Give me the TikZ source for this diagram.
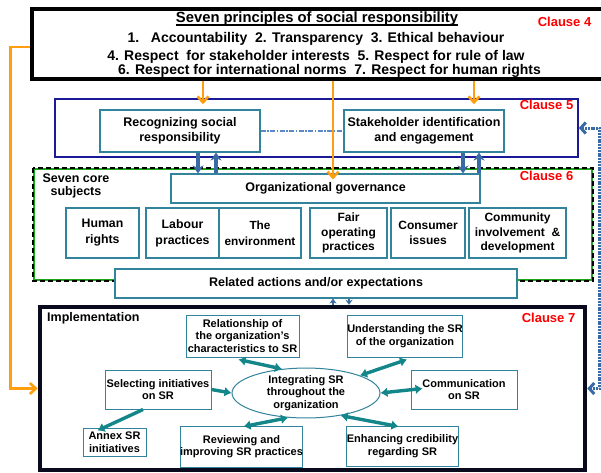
\documentclass[tikz,border=0pt]{standalone}
\usepackage{fontspec}
\setmainfont{Liberation Sans}
\usetikzlibrary{arrows.meta,shapes.geometric,calc}
\definecolor{tealbox}{HTML}{31849B}
\definecolor{tealarr}{HTML}{13868A}
\definecolor{steel}{HTML}{3A6AA3}
\definecolor{steellt}{HTML}{5B8ACB}
\definecolor{orng}{HTML}{FF9E0F}
\definecolor{navyc}{HTML}{1A1A99}
\definecolor{implc}{HTML}{0A0A1E}
\definecolor{grn}{HTML}{1AA51A}
\tikzset{
  fnt/.style={font=\bfseries\fontsize{#1}{17}\selectfont},
  box/.style={draw=tealbox, line width=1.1pt, fill=white, inner sep=0pt, align=center,
    font=\bfseries\fontsize{12.5}{15}\selectfont},
  sbox/.style={box, font=\bfseries\fontsize{12}{14.5}\selectfont},
  ibox/.style={box, line width=1pt, font=\bfseries\fontsize{11}{12.5}\selectfont},
  clause/.style={text=red, font=\bfseries\fontsize{13}{15}\selectfont, inner sep=0pt},
  tarr/.style={draw=tealarr, line width=3.4pt, {Latex[length=7pt,width=10pt]}-{Latex[length=7pt,width=10pt]}},
  tarrone/.style={draw=tealarr, line width=3.4pt, -{Latex[length=7pt,width=10pt]}},
  barr/.style={draw=steel, line width=3.2pt, -{Stealth[length=8pt,width=11pt]}},
  oarr/.style={draw=orng, line width=2.6pt, -{Straight Barb[length=6pt,width=11pt]}},
  bbrk/.style={draw=steel, line width=3pt, dash pattern=on 2pt off 0.8pt,
    {Straight Barb[length=5pt,width=11pt]}-{Straight Barb[length=5pt,width=11pt]}},
}
\begin{document}
\begin{tikzpicture}[x=1pt,y=-1pt]
\fill[white] (0,0) rectangle (601,472);
\useasboundingbox (0,0) rectangle (601,472);

% Clause 4
\node (c4) [draw=black, line width=3.5pt, minimum width=574, minimum height=70, inner sep=0pt] at (319,44) {};
\node[fnt=14.8, anchor=base, inner sep=0pt] (t0) at (317,22.5) {Seven principles of social responsibility};
\draw[black, line width=1.4pt] ($(t0.base west)+(0,2.6)$) -- ($(t0.base east)+(0,2.6)$);
\node[fnt=14, anchor=base] (t1) at (316,42.3) {1.\ \ \ Accountability\ \ 2. Transparency\ \ 3. Ethical behaviour};
\node[fnt=14, anchor=base] (t2) at (316,60) {4. Respect\ \ for stakeholder interests\ \ 5. Respect for rule of law};
\node[fnt=14, anchor=base] (t3) at (329.5,74.7) {6. Respect for international norms\ \ 7. Respect for human rights};
\node[clause] (cl4) at (564.5,22) {Clause 4};

% Clause 5
\node (c5) [draw=navyc, line width=1.5pt, minimum width=523, minimum height=58, inner sep=0pt] at (316.5,128) {};
\node[clause] (cl5) at (546.5,105) {Clause 5};
\node[box, minimum width=160, minimum height=42] (rec) at (180,131) {Recognizing social\\responsibility};
\node[box, minimum width=160, minimum height=42] (stk) at (424,131) {Stakeholder identification\\and engagement};
\draw[steellt, line width=2.4pt, dash pattern=on 5pt off 1.5pt on 1.5pt off 1.5pt] (rec.east) -- (stk.west);

% Clause 6
\node (c6) [draw=grn, line width=2pt, minimum width=558, minimum height=111, inner sep=0pt] at (313,224.5) {};
\draw[black, line width=2pt, dash pattern=on 5pt off 3pt] (c6.north west) rectangle (c6.south east);
\node[clause] (cl6) at (546.5,176) {Clause 6};
\node[align=center, inner sep=0pt, font=\bfseries\fontsize{12.5}{13}\selectfont] (core) at (76,185.5) {Seven core\\subjects};
\node[box, minimum width=309, minimum height=29] (gov) at (325.5,188.5) {Organizational governance};
\node[sbox, minimum width=73, minimum height=50, font=\bfseries\fontsize{12.3}{16}\selectfont] (hr) at (102.5,233) {Human\\rights};
\node[sbox, minimum width=73, minimum height=50, font=\bfseries\fontsize{12.3}{16}\selectfont] (lab) at (182.5,233) {Labour\\practices};
\node[sbox, minimum width=82, minimum height=50, font=\bfseries\fontsize{11.8}{16}\selectfont] (env) at (260,233) {The\\environment};
\node[sbox, minimum width=77, minimum height=50] (fair) at (348.5,233) {Fair\\operating\\practices};
\node[sbox, minimum width=74, minimum height=50] (cons) at (428,233) {Consumer\\issues};
\node[sbox, minimum width=97, minimum height=50] (comm) at (517.5,233) {Community\\involvement\ \ \&\\development};
\node[box, minimum width=402, minimum height=29] (rel) at (316,283.5) {Related actions and/or expectations};

% arrows clause5 -> clause 6
\coordinate (d1) at ($(rec.south)+(18,0)$);
\coordinate (u1) at ($(rec.south)+(36,0)$);
\coordinate (d2) at ($(stk.south)+(39,0)$);
\coordinate (u2) at ($(stk.south)+(55,0)$);
\draw[barr] (d1) -- (d1 |- gov.north);
\draw[barr] (u1 |- gov.north) -- (u1);
\draw[barr] (d2) -- (d2 |- gov.north);
\draw[barr] (u2 |- gov.north) -- (u2);

% orange arrows
\coordinate (o1) at (203,0);
\coordinate (o2) at (333,0);
\coordinate (o3) at (474,0);
\draw[oarr] (c4.south -| o1) -- ($(c5.north -| o1)+(0,6)$);
\draw[oarr] (c4.south -| o2) -- ($(gov.north -| o2)+(0,6)$);
\draw[oarr] (c4.south -| o3) -- ($(c5.north -| o3)+(0,6)$);

% Clause 7
\node (imp) [draw=implc, line width=4.5pt, minimum width=545, minimum height=163, inner sep=0pt] at (312.5,388.5) {};
\draw[oarr] ($(c4.west)+(0,3)$) -- ++(-20,0) |- (imp.west);
\node[fnt=12.5, anchor=west, inner sep=0pt] (impl) at (47,318) {Implementation};
\node[clause] (cl7) at (548.5,318) {Clause 7};

% small arrows between related and implementation
\coordinate (a1) at ($(rel.south)+(17,0)$);
\coordinate (a2) at ($(rel.south)+(33,0)$);
\draw[steel, line width=2.4pt, -{Stealth[length=5pt,width=7pt]}] (a1 |- imp.north) -- (a1);
\draw[steel, line width=2.4pt, -{Stealth[length=5pt,width=7pt]}] (a2) -- (a2 |- imp.north);

% right bracket
\draw[bbrk] (c5.east) -- ++(21,0) |- (imp.east);

% implementation inner
\node[ibox, minimum width=113, minimum height=42] (relat) at (242.5,336) {Relationship of\\the organization's\\characteristics to SR};
\node[ibox, minimum width=114, minimum height=42] (und) at (405,336) {Understanding the SR\\of the organization};
\node[ibox, minimum width=106, minimum height=39] (sel) at (158,389.5) {Selecting initiatives\\on SR};
\node[ibox, ellipse, minimum width=148, minimum height=44] (integ) at (306,393) {Integrating SR\\throughout the\\organization};
\node[ibox, minimum width=106, minimum height=39] (comm2) at (464,389.5) {Communication\\on SR};
\node[ibox, minimum width=63, minimum height=28] (annex) at (114.5,442) {Annex SR\\initiatives};
\node[ibox, minimum width=111, minimum height=41, fill=none] (rev) at (241.5,446.5) {Reviewing and\\improving SR practices};
\node[ibox, minimum width=109, minimum height=40, fill=none] (enh) at (402.5,446) {Enhancing credibility\\regarding SR};

\draw[tarr] ($(relat.south)+(-4,2)$) -- (integ.135);
\draw[tarr] ($(und.south)+(2,2)$) -- (integ.18);
\draw[tarrone] (sel.east) -- (integ.west);
\draw[tarr] (integ.east) -- ($(comm2.west)+(12,-1)$);
\draw[tarr] (integ.-33) -- ($(enh.north)+(-4,1)$);
\draw[tarr] ($(rev.north)+(2,1)$) -- (integ.234);
\draw[tarrone] ($(sel.south)+(-15,0)$) -- ($(annex.north)+(-17,3)$);
\end{tikzpicture}
\end{document}
